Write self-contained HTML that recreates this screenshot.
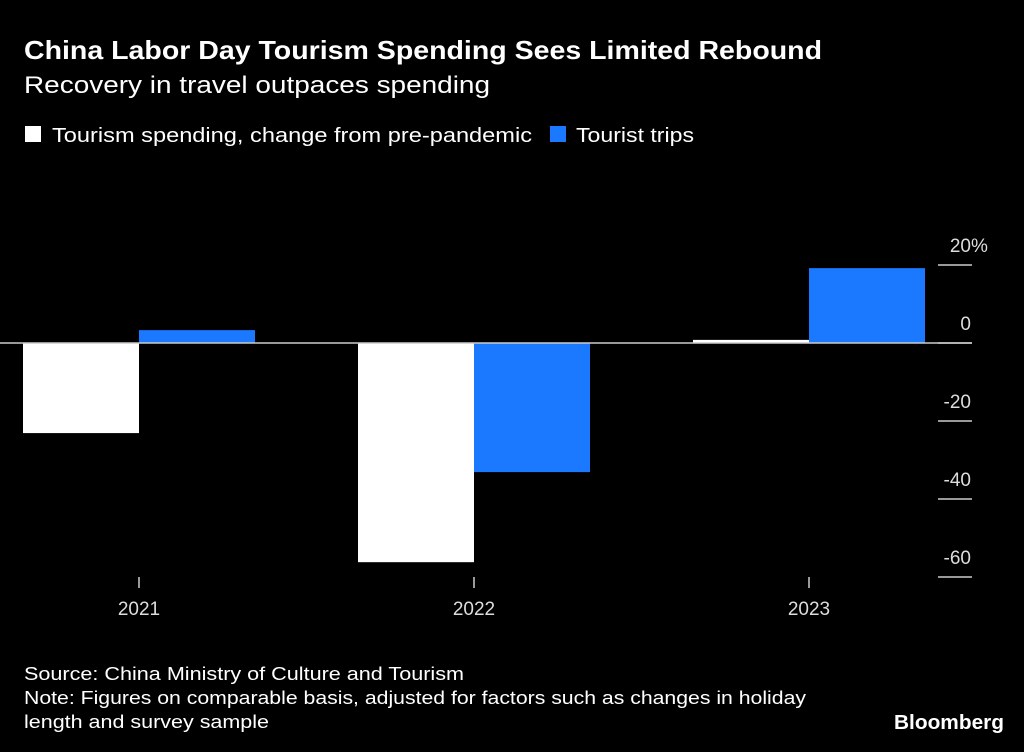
<!DOCTYPE html>
<html><head><meta charset="utf-8"><style>
html,body{margin:0;padding:0;background:#000;}
svg{display:block;font-family:"Liberation Sans",sans-serif;}
</style></head><body>
<svg id="chart" width="1024" height="752" viewBox="0 0 1024 752" xmlns="http://www.w3.org/2000/svg">
<rect width="1024" height="752" fill="#000"/>
<text x="24" y="59" fill="#fff" font-size="26" font-weight="bold" textLength="798" lengthAdjust="spacingAndGlyphs">China Labor Day Tourism Spending Sees Limited Rebound</text>
<text x="24" y="93" fill="#fff" font-size="24" textLength="466" lengthAdjust="spacingAndGlyphs">Recovery in travel outpaces spending</text>
<g>
<rect x="25" y="126" width="16" height="16" fill="#fff"/>
<text x="52" y="142" fill="#fff" font-size="20" textLength="480" lengthAdjust="spacingAndGlyphs">Tourism spending, change from pre-pandemic</text>
<rect x="550" y="126" width="16" height="16" fill="#1a79ff"/>
<text x="576" y="142" fill="#fff" font-size="20" textLength="118" lengthAdjust="spacingAndGlyphs">Tourist trips</text>
</g>
<g id="plot"></g>
<text x="24" y="680" fill="#fff" font-size="18" textLength="440" lengthAdjust="spacingAndGlyphs">Source: China Ministry of Culture and Tourism</text>
<text x="24" y="704" fill="#fff" font-size="18" textLength="782" lengthAdjust="spacingAndGlyphs">Note: Figures on comparable basis, adjusted for factors such as changes in holiday</text>
<text x="24" y="728" fill="#fff" font-size="18" textLength="245" lengthAdjust="spacingAndGlyphs">length and survey sample</text>
<text x="1004" y="729" fill="#fff" font-size="20" font-weight="bold" text-anchor="end" textLength="110" lengthAdjust="spacingAndGlyphs">Bloomberg</text>
</svg>
<script>
const categories = ["2021", "2022", "2023"];
const spending = [-23.1, -56.2, 0.8];
const trips = [3.3, -33.1, 19.2];
const yTicks = [20, 0, -20, -40, -60];
const yTickLabels = ["20", "0", "-20", "-40", "-60"];

const NS = "http://www.w3.org/2000/svg";
const plot = document.getElementById("plot");
const y = v => 343 - v * 3.9;
const xc = i => 139 + i * 335;
const bw = 116;
function mk(tag, attrs) {
  const el = document.createElementNS(NS, tag);
  for (const k in attrs) el.setAttribute(k, attrs[k]);
  plot.appendChild(el);
  return el;
}
yTicks.forEach((t, i) => {
  const ln = mk("line", {x1: 938, x2: 972, y1: y(t), y2: y(t), stroke: "#ccc", "stroke-width": 1.5});
  
  
  const tx = mk("text", {x: 971, y: y(t) - 13, fill: "#ddd", "font-size": 19, "text-anchor": "end"});
  tx.textContent = yTickLabels[i];
  
  
  if (i === 0) {
    const p = mk("text", {x: 971, y: y(t) - 13, fill: "#ddd", "font-size": 19});
    p.textContent = "%";
    
    
  }
});
categories.forEach((c, i) => {
  const s = spending[i], t = trips[i];
  const b1 = mk("rect", {x: xc(i) - bw, y: Math.min(y(0), y(s)), width: bw, height: Math.abs(y(s) - y(0)), fill: "#fff"});
  
  
  const b2 = mk("rect", {x: xc(i), y: Math.min(y(0), y(t)), width: bw, height: Math.abs(y(t) - y(0)), fill: "#1a79ff"});
  
  
  const tk = mk("line", {x1: xc(i), x2: xc(i), y1: 577, y2: 588, stroke: "#ccc", "stroke-width": 1.5});
  
  
  const lb = mk("text", {x: xc(i), y: 615, fill: "#ddd", "font-size": 19, "text-anchor": "middle"});
  lb.textContent = c;
  
  
});
const zl = mk("line", {x1: 0, x2: 972, y1: y(0), y2: y(0), stroke: "#ccc", "stroke-width": 1.5});


</script>
</body></html>
